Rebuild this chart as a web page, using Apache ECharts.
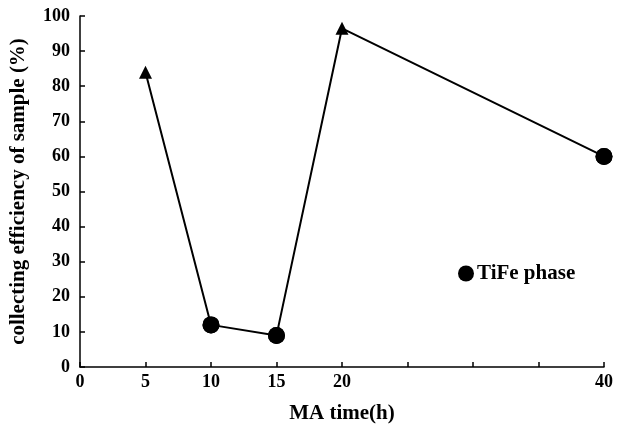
<!DOCTYPE html>
<html><head><meta charset="utf-8">
<script src="https://cdn.jsdelivr.net/npm/echarts@6/dist/echarts.min.js"></script>
<style>html,body{margin:0;padding:0;background:#fff}#c{width:626px;height:429px}</style>
</head><body><div id="c"></div>
<script>
const times = [5, 10, 15, 20, 40];
const efficiency = [84, 12, 9, 96.5, 60];
const phase = ['other', 'TiFe', 'TiFe', 'other', 'TiFe'];
const xTickLabels = {0:'0',5:'5',10:'10',15:'15',20:'20',40:'40'};
const legendName = 'TiFe phase';

const font = '"Liberation Serif", "Times New Roman", serif';
const chart = echarts.init(document.getElementById('c'), null, {renderer:'canvas'});
const lineData = times.map((t,i)=>({
  value:[t, efficiency[i]],
  symbol: phase[i]==='TiFe' ? 'circle' : 'triangle',
  symbolSize: phase[i]==='TiFe' ? 17 : 13
}));
const tifeData = times.map((t,i)=>phase[i]==='TiFe' ? [t, efficiency[i]] : null).filter(d=>d);
chart.setOption({
  animation:false,
  backgroundColor:'#fff',
  grid:{left:80,right:22,top:16,bottom:59,containLabel:false},
  legend:{
    data:[{name:legendName,icon:'circle',itemStyle:{color:'#000',opacity:1}}],
    left:453, top:258, itemWidth:16, itemHeight:16, itemGap:2,
    itemStyle:{color:'#000',borderWidth:0},
    textStyle:{fontFamily:font,fontWeight:'bold',fontSize:21,color:'#000',padding:[0,0,0,-2]}
  },
  xAxis:{
    type:'value', min:0, max:40, interval:5,
    name:'MA time(h)', nameLocation:'middle', nameGap:36,
    nameTextStyle:{fontFamily:font,fontWeight:'bold',fontSize:21,color:'#000'},
    axisLine:{lineStyle:{color:'#000',width:1.5}},
    axisTick:{inside:true,length:5,lineStyle:{color:'#000',width:1.5}},
    splitLine:{show:false},
    axisLabel:{fontFamily:font,fontWeight:'bold',fontSize:18,color:'#000',margin:6,
      formatter:v=> (v in xTickLabels) ? xTickLabels[v] : ''}
  },
  yAxis:{
    type:'value', min:0, max:100, interval:10,
    name:'collecting efficiency of sample (%)', nameLocation:'middle', nameGap:51, nameRotate:90,
    nameTextStyle:{fontFamily:font,fontWeight:'bold',fontSize:21,color:'#000'},
    axisLine:{show:true,lineStyle:{color:'#000',width:1.5}},
    axisTick:{show:true,inside:true,length:5,lineStyle:{color:'#000',width:1.5}},
    splitLine:{show:false},
    axisLabel:{fontFamily:font,fontWeight:'bold',fontSize:18,color:'#000',margin:10}
  },
  series:[
    {type:'line', name:'line', data:lineData, lineStyle:{color:'#000',width:2},
     itemStyle:{color:'#000'}, showAllSymbol:true, z:2},
    {type:'scatter', name:legendName, data:tifeData, symbol:'circle', symbolSize:17,
     itemStyle:{color:'#000',opacity:1}, z:3}
  ]
});
</script></body></html>
